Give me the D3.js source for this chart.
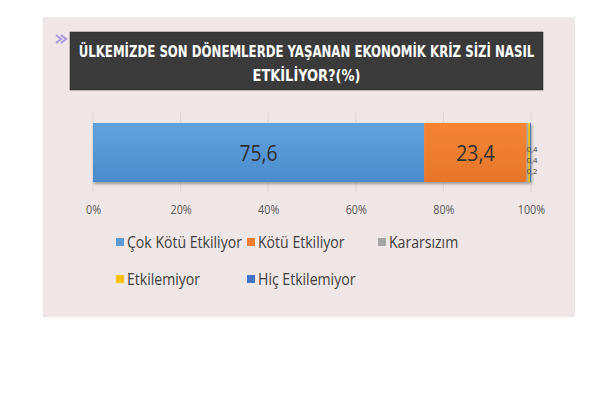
<!DOCTYPE html>
<html><head><meta charset="utf-8">
<script src="https://cdn.jsdelivr.net/npm/d3@7"></script>
<style>body{margin:0;background:#fff}svg{display:block}</style>
</head><body>
<svg id="c" width="612" height="408"></svg>
<script>
const categories = ["Çok Kötü Etkiliyor","Kötü Etkiliyor","Kararsızım","Etkilemiyor","Hiç Etkilemiyor"];
const values = [75.6, 23.4, 0.4, 0.4, 0.2];
const colors = ["#5b9bd5","#ed7d31","#a5a5a5","#ffc000","#4472c4"];
const ticks = [0,20,40,60,80,100];
const titleLines = ["ÜLKEMİZDE SON DÖNEMLERDE YAŞANAN EKONOMİK KRİZ SİZİ NASIL","ETKİLİYOR?(%)"];

const svg = d3.select("#c");
const font = "'Open Sans', 'Liberation Sans', sans-serif";
const defs = svg.append("defs");
const g1 = defs.append("linearGradient").attr("id","gb").attr("x1",0).attr("y1",0).attr("x2",0).attr("y2",1);
g1.append("stop").attr("offset","0").attr("stop-color","#62a3de");
g1.append("stop").attr("offset","1").attr("stop-color","#4a8bcc");
const g2 = defs.append("linearGradient").attr("id","go").attr("x1",0).attr("y1",0).attr("x2",0).attr("y2",1);
g2.append("stop").attr("offset","0").attr("stop-color","#f58534");
g2.append("stop").attr("offset","1").attr("stop-color","#e7762a");
const f = defs.append("filter").attr("id","sh").attr("x","-5%").attr("y","-10%").attr("width","110%").attr("height","130%");
f.append("feDropShadow").attr("dx",1).attr("dy",2).attr("stdDeviation",1.5).attr("flood-color","#000").attr("flood-opacity",0.35);

// panel
svg.append("rect").attr("x",43).attr("y",17).attr("width",532).attr("height",300).attr("fill","#efe6e7");

// chevrons
[0,5].forEach(dx=>{
  svg.append("path").attr("d",`M${56+dx},35 L${61+dx},39 L${56+dx},43`).attr("fill","none")
    .attr("stroke","#a99be0").attr("stroke-width",2.2);
});
// title box
svg.append("rect").attr("x",70).attr("y",32).attr("width",473).attr("height",58).attr("fill","#3a3a3a")
  .attr("stroke","#222").attr("stroke-width",0.5);
const tf = "'DejaVu Sans Condensed','DejaVu Sans',sans-serif";
const titleWidths = [456,108];
titleLines.forEach((t,i)=>{
  const el = svg.append("text").attr("text-anchor","middle").attr("fill","#fff")
    .attr("font-family",tf).attr("font-weight","bold").attr("font-size",16.5).text(t);
  const w = el.node().getComputedTextLength();
  const sx = Math.min(1, titleWidths[i]/w);
  el.attr("transform",`translate(306.5,${57+i*24}) scale(${sx},1)`);
});

// scale
const x = d3.scaleLinear().domain([0,100]).range([93,531]);
const barY = 123, barH = 59;

// gridlines
svg.append("g").selectAll("line").data(ticks).join("line")
  .attr("x1",d=>x(d)).attr("x2",d=>x(d)).attr("y1",112).attr("y2",192)
  .attr("stroke","#dcd4d5").attr("stroke-width",1);

// stacked bars
let cum = 0;
const stacks = values.map((v,i)=>{const s={v,i,x0:cum,x1:cum+v};cum+=v;return s;});
svg.append("g").attr("filter","url(#sh)").selectAll("rect").data(stacks).join("rect")
  .attr("x",d=>x(d.x0)).attr("y",barY).attr("width",d=>Math.max(x(d.x1)-x(d.x0),0.6)).attr("height",barH)
  .attr("fill",d=>d.i===0?"url(#gb)":d.i===1?"url(#go)":colors[d.i]);

// value labels
svg.append("g").selectAll("text").data(stacks.slice(0,2)).join("text")
  .attr("transform",d=>`translate(${x((d.x0+d.x1)/2)},${barY+barH/2+8}) scale(0.88,1)`)
  .attr("text-anchor","middle")
  .attr("font-family",font).attr("font-size",22).attr("fill","#303030")
  .text(d=>String(d.v).replace(".",","));
const small = stacks.slice(2);
svg.append("g").selectAll("text").data(small).join("text")
  .attr("transform",(d,j)=>`translate(${x(100)+1},${152+j*11}) scale(0.95,1)`)
  .attr("text-anchor","middle")
  .attr("font-family",font).attr("font-size",8).attr("fill","#404040")
  .text(d=>String(d.v).replace(".",","));

// axis
const ax = svg.append("g").attr("transform","translate(0,202)")
  .call(d3.axisBottom(x).tickValues(ticks).tickSize(0).tickFormat(d=>d+"%"));
ax.select(".domain").remove();
ax.selectAll("text").attr("font-family",font).attr("font-size",12).attr("fill","#595959")
  .attr("transform","scale(0.9,1)");

// legend
const legPos = [[116,243],[247,243],[378,243],[116,280],[247,280]];
const lg = svg.append("g").selectAll("g").data(categories).join("g")
  .attr("transform",(d,i)=>`translate(${legPos[i][0]},${legPos[i][1]})`);
lg.append("rect").attr("x",0).attr("y",-5).attr("width",8).attr("height",8).attr("fill",(d,i)=>colors[i]);
lg.append("text").attr("transform","translate(11,5) scale(0.88,1)")
  .attr("font-family",font).attr("font-size",16).attr("fill","#404040")
  .text(d=>d);
</script>
</body></html>
